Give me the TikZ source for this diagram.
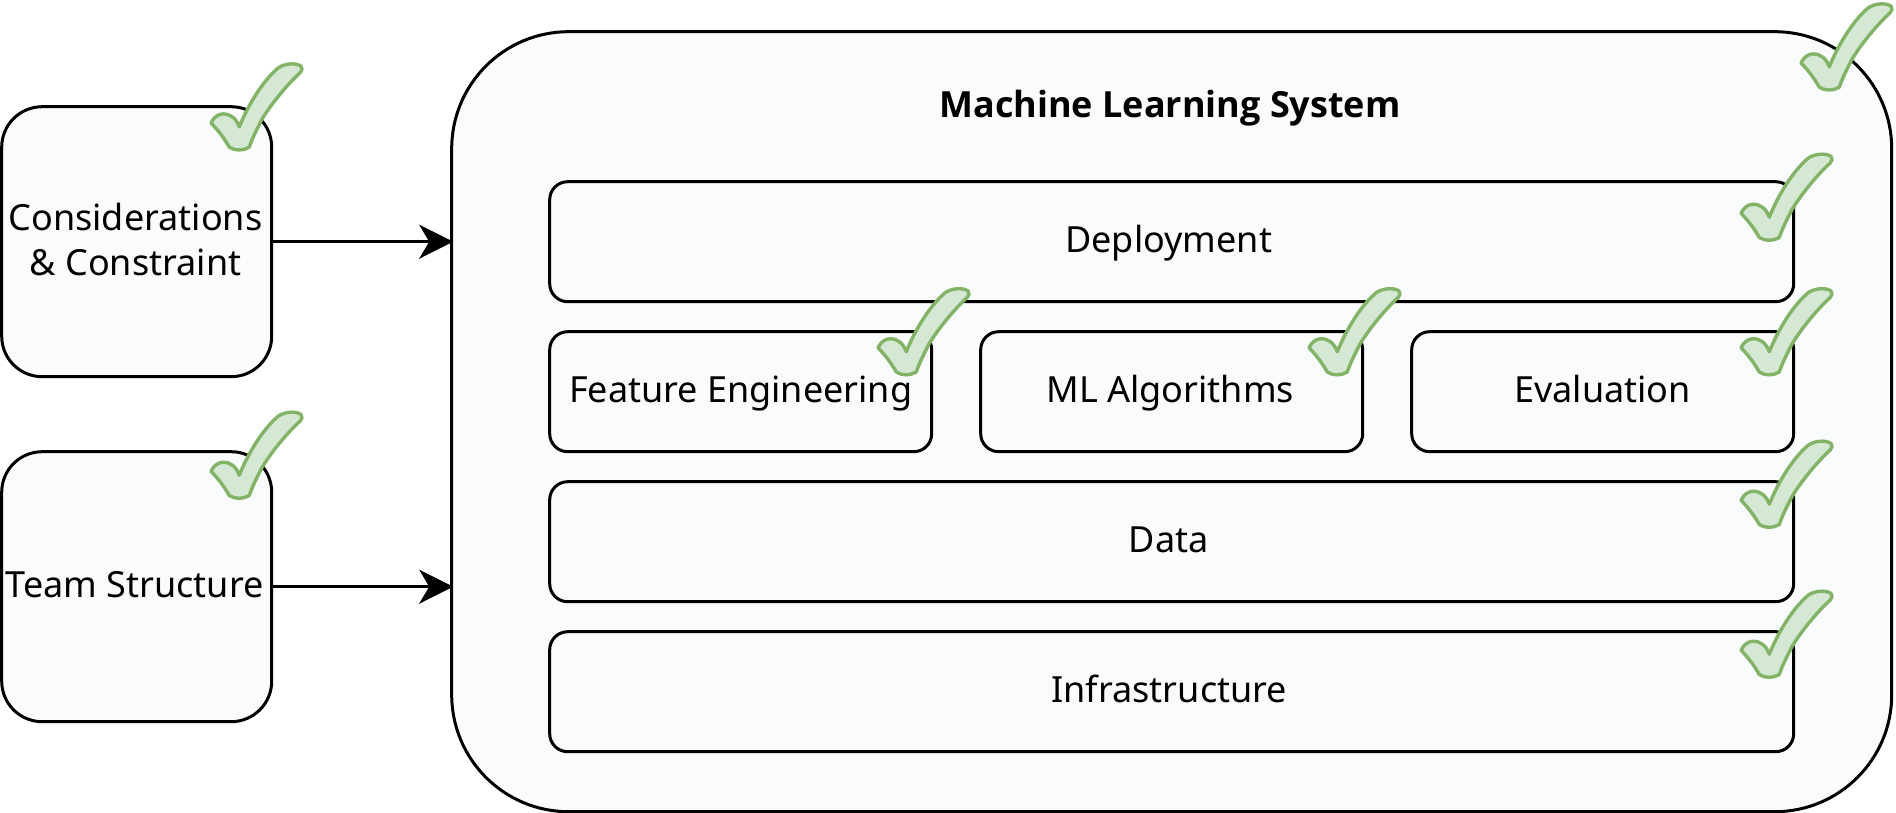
\documentclass[tikz,border=0pt]{standalone}
\usepackage{fontspec}
\setmainfont{Noto Sans}
\newfontfamily\titlefont{Open Sans}
\usetikzlibrary{arrows.meta}
\definecolor{boxfill}{HTML}{FAFBFD}
\definecolor{chkfill}{HTML}{D5E8D4}
\definecolor{chkline}{HTML}{82B366}
\newcommand{\st}{\rule[-9pt]{0pt}{40pt}}
\newcommand{\stm}{\rule[-11pt]{0pt}{45pt}}
\tikzset{
  base/.style={draw=black,line width=3pt,fill=boxfill,outer sep=0pt,inner sep=0pt,align=center,font=\fontsize{36}{45}\selectfont},
  sidebox/.style={base,rounded corners=40.5pt,minimum width=270pt,minimum height=270pt},
  mainbox/.style={base,rounded corners=117pt,minimum width=1440pt,minimum height=780pt},
  widebox/.style={base,rounded corners=18pt,minimum width=1244pt,minimum height=120pt},
  smallbox/.style={base,rounded corners=18pt,minimum width=382pt,minimum height=120pt},
  conn/.style={draw=black,line width=3pt,shorten >=-1.5pt,-{Stealth[length=34pt,width=34pt,inset=10pt]}},
  titletext/.style={inner sep=0pt,font=\fontsize{36}{45}\titlefont\bfseries},
  chk/.style={fill=chkfill,draw=chkline,line width=3.4pt,line join=round}
}
\newcommand{\greencheck}[2]{%
  \begin{scope}[shift={(#1,#2+1.5)},yscale=0.97]
    \path[chk] (0,61.6) .. controls (3,55) and (8,52.3) .. (12,52.3)
      .. controls (20,52.3) and (25,57) .. (28.3,65.6)
      .. controls (36,46) and (50,20) .. (67,5)
      .. controls (73,0.5) and (84,-1) .. (90,3)
      .. controls (92,5) and (91,8) .. (89,10)
      .. controls (78,20) and (60,42) .. (50.7,58.3)
      .. controls (45,70) and (41,78) .. (38.3,86.6)
      .. controls (32,90.5) and (24,90.5) .. (18.3,86.6)
      .. controls (13,77) and (7,69) .. (0,61.6) -- cycle;
  \end{scope}}
\begin{document}
\begin{tikzpicture}[x=1pt,y=-1pt]
\useasboundingbox (0,0) rectangle (1896,813);
\node[mainbox] (main) at (1171.7,421.7) {};
\node[sidebox] (cons) at (136.7,241.7) {\stm Considerations\kern2.4pt\\\stm\& Constraint\kern2.4pt};
\node[sidebox] (team) at (136.7,586.7) {\st Team Structure\kern4pt};
\node[titletext] (title) at (1170,106.7) {\st Machine Learning System};
\node[widebox] (deploy) at (1171.7,241.7) {\st Deployment\kern6pt};
\node[smallbox] (feat) at (740.7,391.7) {\st Feature Engineering};
\node[smallbox] (algo) at (1171.7,391.7) {\st ML Algorithms\kern3pt};
\node[smallbox] (eval) at (1602.7,391.7) {\st Evaluation};
\node[widebox] (data) at (1171.7,541.7) {\st Data\kern6pt};
\node[widebox] (infra) at (1171.7,691.7) {\st Infrastructure\kern5pt};
\draw[conn] (cons.east) -- (cons.east -| main.west);
\draw[conn] (team.east) -- (team.east -| main.west);
\greencheck{211}{61.7}
\greencheck{211}{410}
\greencheck{1801}{1.7}
\greencheck{1741}{152}
\greencheck{878}{286.5}
\greencheck{1309}{286.5}
\greencheck{1741}{286.5}
\greencheck{1741}{439}
\greencheck{1741}{589}
\end{tikzpicture}
\end{document}
